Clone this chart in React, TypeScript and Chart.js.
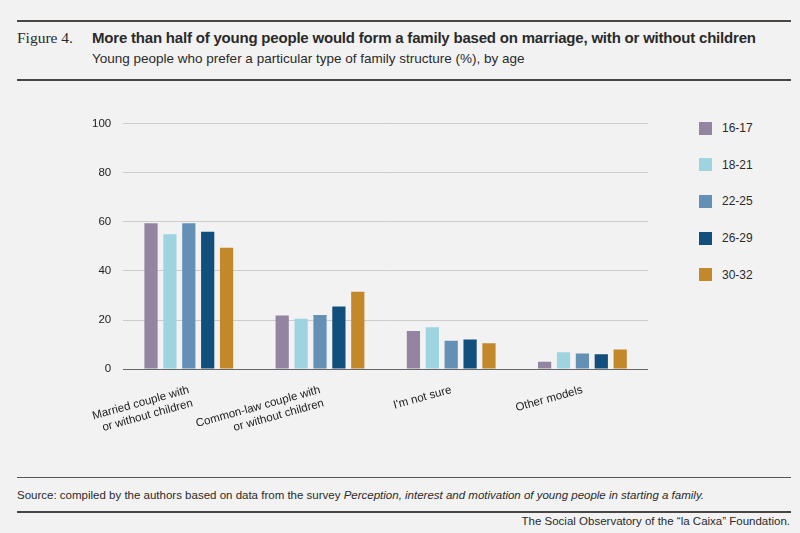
import React, { useEffect, useRef } from "react";
import { Chart, registerables } from "chart.js";
Chart.register(...registerables);

const categories = [["Married couple with", "or without children"], ["Common-law couple with", "or without children"], "I'm not sure", "Other models"];
const seriesLabels = ["16-17", "18-21", "22-25", "26-29", "30-32"];
const colors = ["#9384a2", "#9dd4df", "#6490b6", "#134f7c", "#c2882a"];
const v1617 = [59.5, 21.8, 15.5, 3];
const v1821 = [55, 20.5, 17, 6.8];
const v2225 = [59.5, 22, 11.5, 6.3];
const v2629 = [56, 25.5, 12, 6];
const v3032 = [49.5, 31.5, 10.5, 8];
const seriesValues = [v1617, v1821, v2225, v2629, v3032];
const yTicks = [0, 20, 40, 60, 80, 100];

const font = "'Liberation Sans', Arial, sans-serif";

export default function App() {
  const ref = useRef<HTMLCanvasElement>(null);
  useEffect(() => {
    const c = new Chart(ref.current!, {
      type: "bar",
      data: {
        labels: categories as any,
        datasets: seriesValues.map((d, i) => ({
          label: seriesLabels[i], data: d, backgroundColor: colors[i],
          categoryPercentage: 0.72, barPercentage: 0.7,
        })),
      },
      options: {
        animation: false, responsive: false,
        layout: { padding: { left: 0, right: 0, top: 0, bottom: 0 } },
        plugins: { legend: { display: false }, tooltip: { enabled: false } },
        scales: {
          x: {
            grid: { display: false },
            border: { color: "#666", width: 1 },
            ticks: { color: "#222", font: { family: font, size: 11.5 }, padding: 6 },
          },
          y: {
            min: 0, max: 100,
            afterBuildTicks: (ax: any) => { ax.ticks = yTicks.map(v => ({ value: v })); },
            grid: { color: "#cccccc", drawTicks: false },
            border: { display: false },
            ticks: { color: "#222", font: { family: font, size: 11.5 }, padding: 12 },
          },
        },
      },
    });
    return () => c.destroy();
  }, []);
  return (
    <div style={{ position: "fixed", left: 0, top: 0, width: 800, height: 533, background: "#f2f2f2", fontFamily: font, color: "#2a2a2a" }}>
      <div style={{ position: "absolute", left: 17, right: 9, top: 20, borderTop: "2px solid #4a4643" }} />
      <div style={{ position: "absolute", left: 17, top: 29, fontFamily: "'Liberation Serif', serif", fontSize: 15.5 }}>Figure 4.</div>
      <div style={{ position: "absolute", left: 92, top: 29, fontSize: 15, fontWeight: "bold", letterSpacing: -0.2 }}>More than half of young people would form a family based on marriage, with or without children</div>
      <div style={{ position: "absolute", left: 92, top: 51, fontSize: 13.5 }}>Young people who prefer a particular type of family structure (%), by age</div>
      <div style={{ position: "absolute", left: 17, right: 9, top: 79, borderTop: "2px solid #4a4643" }} />
      <canvas ref={ref} width={568} height={345} style={{ position: "absolute", left: 80, top: 105 }} />
      {seriesLabels.map((s, i) => (
        <div key={s} style={{ position: "absolute", left: 699, top: 121 + i * 36.7, display: "flex", alignItems: "center", fontSize: 12 }}>
          <div style={{ width: 13, height: 13, background: colors[i], marginRight: 10 }} />{s}
        </div>
      ))}
      <div style={{ position: "absolute", left: 17, right: 9, top: 477, borderTop: "1px solid #555" }} />
      <div style={{ position: "absolute", left: 17, top: 489, fontSize: 11.5 }}>Source: compiled by the authors based on data from the survey <i>Perception, interest and motivation of young people in starting a family.</i></div>
      <div style={{ position: "absolute", left: 17, right: 9, top: 511, borderTop: "2px solid #4a4643" }} />
      <div style={{ position: "absolute", right: 10, top: 515, fontSize: 11.5 }}>The Social Observatory of the “la Caixa” Foundation.</div>
    </div>
  );
}
